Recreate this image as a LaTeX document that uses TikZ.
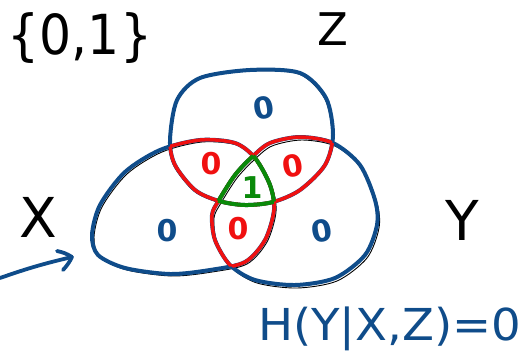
\documentclass[tikz,border=0pt]{standalone}
\usepackage{fontspec}
\setmainfont{DejaVu Sans}
\usetikzlibrary{arrows.meta}
\definecolor{pen}{HTML}{0F4C8A}
\definecolor{rpen}{HTML}{F01010}
\definecolor{gpen}{HTML}{0A8A0A}
\def\shX{plot[smooth cycle] coordinates {(92,235) (100,205) (125,172) (160,150) (200,140) (235,143) (255,158) (270,185) (274,210) (265,240) (245,262) (210,270) (170,274) (125,268) (98,255)}}
\def\shY{plot[smooth cycle] coordinates {(252,157) (270,143) (300,137) (333,143) (360,165) (375,200) (377,225) (365,255) (335,278) (295,285) (255,280) (230,265) (215,240) (212,215) (219,200) (235,175)}}
\def\shZ{plot[smooth cycle] coordinates {(170,140) (177,100) (200,78) (250,70) (300,73) (326,98) (333,135) (325,165) (300,190) (273,202) (245,205) (219,201) (195,190) (175,165)}}
\tikzset{
  blueline/.style={draw=pen, line width=4pt, line join=round},
  thinline/.style={draw=black, line width=0.9pt},
  redline/.style={draw=rpen, line width=3.5pt, line join=round},
  greenline/.style={draw=gpen, line width=4pt, line join=round},
  bigtext/.style={font=\fontsize{55}{55}\selectfont, inner sep=0pt},
  digit/.style={font=\bfseries\fontsize{30}{30}\selectfont, inner sep=0pt},
  arrowpen/.style={draw=pen, line width=3.8pt, line cap=round, line join=round},
}
\begin{document}
\begin{tikzpicture}[x=1pt,y=-1pt]
\useasboundingbox (0,0) rectangle (526,354);
% thin black under-strokes
\draw[thinline, shift={(2,2)}] \shX;
\draw[thinline, shift={(2,3)}] \shY;
\draw[thinline, shift={(-1,1)}] \shZ;
% blue sets
\draw[blueline] \shX;
\draw[blueline] \shY;
\draw[blueline] \shZ;
% red pairwise lenses
\begin{scope}\clip \shX; \draw[redline] \shZ;\end{scope}
\begin{scope}\clip \shZ; \draw[redline] \shX;\end{scope}
\begin{scope}\clip \shY; \draw[redline] \shZ;\end{scope}
\begin{scope}\clip \shZ; \draw[redline] \shY;\end{scope}
\begin{scope}\clip \shX; \draw[redline] \shY;\end{scope}
\begin{scope}\clip \shY; \draw[redline] \shX;\end{scope}
% green triple intersection
\begin{scope}\clip \shX; \clip \shY; \draw[greenline] \shZ;\end{scope}
\begin{scope}\clip \shX; \clip \shZ; \draw[greenline] \shY;\end{scope}
\begin{scope}\clip \shY; \clip \shZ; \draw[greenline] \shX;\end{scope}
% region labels
\node[digit, text=pen, rotate=10] (zo) at (264,108) {0};
\node[digit, text=pen] (xo) at (167,231) {0};
\node[digit, text=pen, rotate=10] (yo) at (322,231) {0};
\node[digit, text=rpen] (xz) at (211,164) {0};
\node[digit, text=rpen, rotate=10] (yz) at (293,166) {0};
\node[digit, text=rpen] (xy) at (238,229) {0};
\node[digit, text=gpen] (xyz) at (252,188) {1};
% set names
\node[font=\fontsize{48}{48}\selectfont, inner sep=0pt] (set) at (80,38) {\scalebox{1.05}[1.15]{\{0,1\}}};
\node[font=\fontsize{45}{45}\selectfont, inner sep=0pt] (zn) at (333,29) {Z};
\node[bigtext] (xn) at (38,217) {X};
\node[bigtext] (yn) at (462,220) {Y};
\node[font=\fontsize{44}{44}\selectfont, inner sep=0pt, text=pen, anchor=base west] (eq) at (258,340) {\scalebox{1.06}[1]{H(Y|X,Z)=0}};
% arrow (shaft and hand-drawn barbs)
\coordinate (a0) at (0,278);
\coordinate (a1) at (72,257);
\coordinate (b1) at (57,251);
\coordinate (b2) at (63,270);
\draw[arrowpen] (a0) to[bend left=3] (a1);
\draw[arrowpen] (b1) to[bend left=10] (a1) to[bend left=8] (b2);
\end{tikzpicture}
\end{document}
